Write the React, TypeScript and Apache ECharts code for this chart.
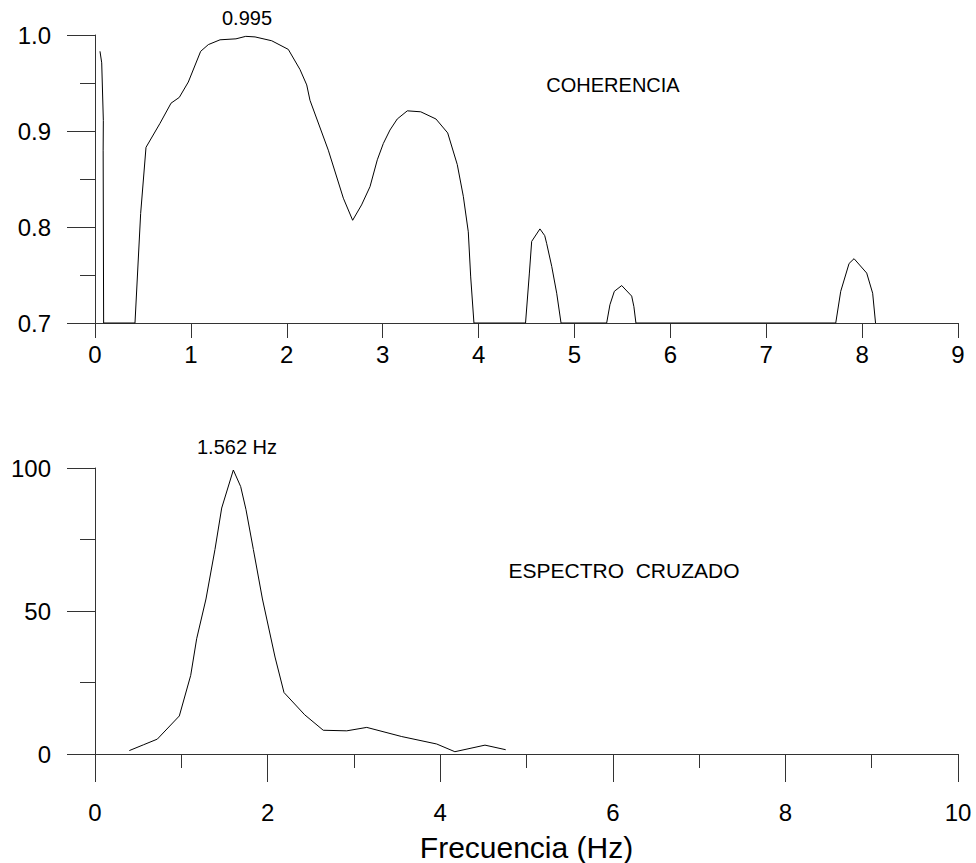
import React, { useEffect, useRef } from "react";
import * as echarts from "echarts";

// Coherence (top panel)
const cohFreq = [
  0.052, 0.07, 0.087, 0.085, 0.09, 0.417, 0.476, 0.532, 0.678, 0.793, 0.879, 0.973, 1.102, 1.182, 1.304,
  1.47, 1.572, 1.669, 1.843, 2.016, 2.138, 2.208, 2.242, 2.433, 2.59, 2.687, 2.78, 2.868, 2.944, 3.007,
  3.076, 3.152, 3.257, 3.397, 3.556, 3.678, 3.778, 3.841, 3.893, 3.918, 3.952, 4.49, 4.53, 4.554, 4.64,
  4.69, 4.71, 4.763, 4.815, 4.86, 5.336, 5.37, 5.416, 5.493, 5.597, 5.62, 5.641, 7.725, 7.777, 7.864,
  7.916, 8.048, 8.11, 8.14,
];
const cohVal = [
  0.983, 0.971, 0.911, 0.88, 0.7, 0.7, 0.814, 0.883, 0.908, 0.929, 0.935, 0.951, 0.983, 0.99, 0.995,
  0.996, 0.9986, 0.998, 0.994, 0.985, 0.964, 0.948, 0.932, 0.88, 0.83, 0.807, 0.823, 0.842, 0.87, 0.887,
  0.901, 0.9125, 0.921, 0.92, 0.9125, 0.898, 0.865, 0.832, 0.795, 0.748, 0.7, 0.7, 0.752, 0.785, 0.798,
  0.791, 0.783, 0.759, 0.731, 0.7, 0.7, 0.719, 0.733, 0.739, 0.728, 0.717, 0.7, 0.7, 0.733, 0.762,
  0.767, 0.752, 0.731, 0.7,
];

// Cross spectrum (bottom panel)
const specFreq = [
  0.398, 0.56, 0.722, 0.977, 1.109, 1.178, 1.286, 1.39, 1.468, 1.603, 1.688, 1.75, 1.835, 1.94, 2.086,
  2.19, 2.43, 2.645, 2.917, 3.149, 3.554, 3.959, 4.17, 4.519, 4.759,
];
const specVal = [
  1.2, 3.2, 5.2, 13.3, 27.5, 40.3, 54.2, 71.5, 86.0, 99.3, 93.5, 85.4, 71.5, 54.2, 33.9,
  21.5, 13.7, 8.3, 8.1, 9.3, 6.1, 3.5, 0.8, 3.1, 1.5,
];

const peakCohLabel = "0.995";
const peakFreqLabel = "1.562 Hz";
const cohTitle = "COHERENCIA";
const specTitle = "ESPECTRO  CRUZADO";
const xAxisName = "Frecuencia (Hz)";

const FONT = "'Liberation Sans', Arial, sans-serif";
const AX = "#333";

export default function App() {
  const ref = useRef<HTMLDivElement>(null);
  useEffect(() => {
    if (!ref.current) return;
    const chart = echarts.init(ref.current, undefined, { renderer: "svg" });
    const axisCommon = {
      axisLine: { show: true, onZero: false, lineStyle: { color: AX, width: 1 } },
      splitLine: { show: false },
      minorSplitLine: { show: false },
      axisLabel: { color: "#000", fontSize: 24, fontFamily: FONT },
    };
    chart.setOption({
      animation: false,
      backgroundColor: "#fff",
      grid: [
        { left: 95, top: 35, width: 863, height: 288 },
        { left: 95, top: 468, width: 863, height: 288 },
      ],
      xAxis: [
        {
          type: "value",
          gridIndex: 0,
          min: 0,
          max: 9,
          interval: 1,
          ...axisCommon,
          axisTick: { show: true, length: 15, lineStyle: { color: AX } },
          axisLabel: { ...axisCommon.axisLabel, margin: 19 },
        },
        {
          type: "value",
          gridIndex: 1,
          min: 0,
          max: 10,
          interval: 2,
          ...axisCommon,
          axisTick: { show: true, length: 28, lineStyle: { color: AX } },
          minorTick: { show: true, splitNumber: 2, length: 14, lineStyle: { color: AX } },
          axisLabel: { ...axisCommon.axisLabel, margin: 46 },
          name: xAxisName,
          nameLocation: "middle",
          nameGap: 78,
          nameTextStyle: { color: "#000", fontSize: 30, fontFamily: FONT },
        },
      ],
      yAxis: [
        {
          type: "value",
          gridIndex: 0,
          min: 0.7,
          max: 1.0,
          interval: 0.1,
          ...axisCommon,
          axisTick: { show: true, length: 28, lineStyle: { color: AX } },
          minorTick: { show: true, splitNumber: 2, length: 15, lineStyle: { color: AX } },
          axisLabel: { ...axisCommon.axisLabel, margin: 44, formatter: (v: number) => v.toFixed(1) },
        },
        {
          type: "value",
          gridIndex: 1,
          min: 0,
          max: 100,
          interval: 50,
          ...axisCommon,
          axisTick: { show: true, length: 28, lineStyle: { color: AX } },
          minorTick: { show: true, splitNumber: 2, length: 15, lineStyle: { color: AX } },
          axisLabel: { ...axisCommon.axisLabel, margin: 44 },
        },
      ],
      series: [
        {
          type: "line",
          xAxisIndex: 0,
          yAxisIndex: 0,
          data: cohFreq.map((f, i) => [f, cohVal[i]]),
          showSymbol: false,
          symbol: "none",
          lineStyle: { color: "#000", width: 1 },
          clip: true,
        },
        {
          type: "line",
          xAxisIndex: 1,
          yAxisIndex: 1,
          data: specFreq.map((f, i) => [f, specVal[i]]),
          showSymbol: false,
          symbol: "none",
          lineStyle: { color: "#000", width: 1 },
        },
      ],
      graphic: [
        { type: "text", x: 247, y: 18, style: { text: peakCohLabel, fill: "#000", font: `20px ${FONT}`, textAlign: "center", textVerticalAlign: "middle" } },
        { type: "text", x: 613, y: 85, style: { text: cohTitle, fill: "#000", font: `20px ${FONT}`, textAlign: "center", textVerticalAlign: "middle" } },
        { type: "text", x: 237, y: 447, style: { text: peakFreqLabel, fill: "#000", font: `20px ${FONT}`, textAlign: "center", textVerticalAlign: "middle" } },
        { type: "text", x: 624, y: 570, style: { text: specTitle, fill: "#000", font: `21px ${FONT}`, textAlign: "center", textVerticalAlign: "middle" } },
      ],
    });
    return () => chart.dispose();
  }, []);
  return <div ref={ref} style={{ width: 976, height: 863, position: "absolute", left: 0, top: 0 }} />;
}
